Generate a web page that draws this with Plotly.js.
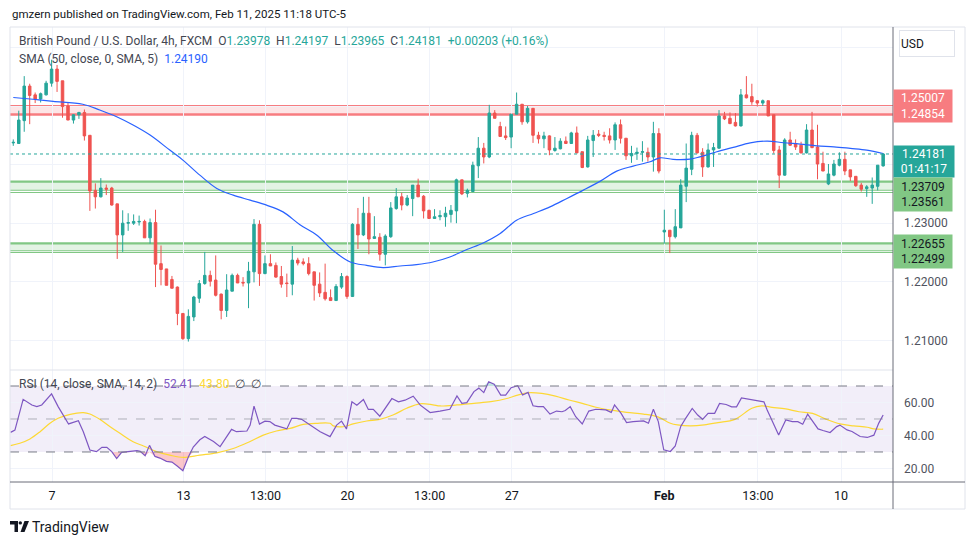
<!DOCTYPE html>
<html><head><meta charset="utf-8">
<script src="https://cdn.plot.ly/plotly-3.0.1.min.js"></script>
<style>html,body{margin:0;padding:0;background:#fff;}#chart{width:970px;height:545px;}</style>
</head><body><div id="chart"></div>
<script>
// ---- Candle data (GBPUSD 4h, FXCM) ----
const opens = [1.2437,1.2436,1.2475,1.2534,1.2519,1.2512,1.2519,1.2539,1.2563,1.2543,
1.2500,1.2476,1.2485,1.2489,1.2450,1.2356,1.2345,1.2360,1.2360,1.2333,
1.2280,1.2300,1.2300,1.2302,1.2303,1.2275,1.2301,1.2231,1.2222,1.2204,
1.2191,1.2146,1.2103,1.2140,1.2172,1.2197,1.2211,1.2203,1.2179,1.2151,
1.2184,1.2211,1.2199,1.2198,1.2217,1.2298,1.2214,1.2231,1.2228,1.2209,
1.2198,1.2196,1.2237,1.2234,1.2231,1.2217,1.2196,1.2182,1.2173,1.2168,
1.2191,1.2209,1.2175,1.2298,1.2280,1.2317,1.2274,1.2276,1.2247,1.2277,
1.2325,1.2345,1.2331,1.2342,1.2365,1.2346,1.2322,1.2308,1.2311,1.2311,
1.2315,1.2321,1.2374,1.2351,1.2354,1.2398,1.2428,1.2413,1.2488,1.2465,
1.2449,1.2447,1.2486,1.2503,1.2473,1.2496,1.2450,1.2444,1.2449,1.2424,
1.2427,1.2440,1.2436,1.2454,1.2422,1.2396,1.2441,1.2452,1.2450,1.2449,
1.2442,1.2468,1.2445,1.2415,1.2419,1.2421,1.2421,1.2413,1.2453,1.2285,
1.2288,1.2277,1.2292,1.2363,1.2392,1.2450,1.2421,1.2396,1.2425,1.2428,
1.2483,1.2479,1.2472,1.2466,1.2519,1.2516,1.2509,1.2505,1.2509,1.2485,
1.2425,1.2382,1.2442,1.2435,1.2433,1.2420,1.2459,1.2430,1.2402,1.2367,
1.2382,1.2399,1.2409,1.2391,1.2380,1.2365,1.2359,1.2360,1.2363,1.23978];
const highs = [1.2443,1.2492,1.2551,1.2538,1.2523,1.2523,1.2543,1.2579,1.2570,1.2543,
1.2506,1.2486,1.2490,1.2494,1.2450,1.2368,1.2377,1.2366,1.2362,1.2333,
1.2322,1.2317,1.2315,1.2313,1.2306,1.2308,1.2323,1.2262,1.2222,1.2210,
1.2192,1.2146,1.2153,1.2176,1.2203,1.2251,1.2219,1.2245,1.2180,1.2213,
1.2214,1.2214,1.2208,1.2234,1.2307,1.2305,1.2245,1.2247,1.2233,1.2227,
1.2214,1.2261,1.2241,1.2240,1.2242,1.2217,1.2216,1.2231,1.2187,1.2196,
1.2215,1.2211,1.2300,1.2326,1.2345,1.2345,1.2312,1.2283,1.2281,1.2336,
1.2360,1.2352,1.2348,1.2365,1.2376,1.2348,1.2323,1.2324,1.2322,1.2328,
1.2331,1.2376,1.2374,1.2359,1.2405,1.2447,1.2437,1.2502,1.2493,1.2473,
1.2465,1.2486,1.2523,1.2503,1.2500,1.2496,1.2456,1.2456,1.2450,1.2447,
1.2445,1.2448,1.2456,1.2465,1.2422,1.2449,1.2459,1.2459,1.2456,1.2462,
1.2472,1.2477,1.2445,1.2432,1.2429,1.2440,1.2429,1.2473,1.2462,1.2323,
1.2288,1.2324,1.2375,1.2436,1.2456,1.2454,1.2428,1.2436,1.2437,1.2493,
1.2490,1.2489,1.2488,1.2529,1.2551,1.2538,1.2510,1.2511,1.2509,1.2485,
1.2432,1.2445,1.2456,1.2443,1.2439,1.2469,1.2490,1.2468,1.2422,1.2401,
1.2408,1.2421,1.2422,1.2391,1.2380,1.2369,1.2365,1.2378,1.2399,1.24197];
const lows = [1.2432,1.2436,1.2456,1.2469,1.2505,1.2506,1.2518,1.2533,1.2524,1.2480,
1.2476,1.2470,1.2478,1.2441,1.2321,1.2325,1.2344,1.2348,1.2330,1.2239,
1.2251,1.2287,1.2297,1.2296,1.2275,1.2265,1.2191,1.2194,1.2194,1.2189,
1.2126,1.2101,1.2098,1.2133,1.2164,1.2195,1.2192,1.2175,1.2136,1.2140,
1.2184,1.2198,1.2192,1.2155,1.2199,1.2193,1.2213,1.2227,1.2207,1.2190,
1.2174,1.2177,1.2228,1.2228,1.2211,1.2168,1.2174,1.2168,1.2168,1.2168,
1.2188,1.2171,1.2174,1.2256,1.2278,1.2247,1.2273,1.2236,1.2228,1.2275,
1.2323,1.2322,1.2329,1.2312,1.2345,1.2308,1.2308,1.2308,1.2305,1.2294,
1.2301,1.2300,1.2348,1.2344,1.2353,1.2377,1.2402,1.2411,1.2479,1.2448,
1.2442,1.2428,1.2486,1.2468,1.2470,1.2437,1.2436,1.2428,1.2416,1.2422,
1.2426,1.2436,1.2436,1.2420,1.2394,1.2395,1.2413,1.2447,1.2441,1.2436,
1.2425,1.2436,1.2408,1.2403,1.2408,1.2405,1.2405,1.2388,1.2385,1.2265,
1.2249,1.2274,1.2292,1.2336,1.2382,1.2419,1.2379,1.2395,1.2396,1.2427,
1.2476,1.2469,1.2465,1.2465,1.2513,1.2502,1.2499,1.2500,1.2483,1.2419,
1.2360,1.2381,1.2432,1.2425,1.2419,1.2419,1.2428,1.2375,1.2389,1.2365,
1.2380,1.2397,1.2382,1.2372,1.2362,1.2354,1.2345,1.2333,1.2356,1.23965];
const closes = [1.2438,1.2476,1.2534,1.2518,1.2512,1.2521,1.2539,1.2563,1.2542,1.2499,
1.2476,1.2485,1.2489,1.2449,1.2355,1.2345,1.2360,1.2358,1.2331,1.2280,
1.2300,1.2301,1.2303,1.2303,1.2275,1.2301,1.2230,1.2221,1.2194,1.2189,
1.2146,1.2103,1.2141,1.2174,1.2197,1.2211,1.2201,1.2177,1.2151,1.2186,
1.2211,1.2198,1.2198,1.2218,1.2298,1.2214,1.2231,1.2227,1.2208,1.2196,
1.2197,1.2237,1.2232,1.2231,1.2214,1.2194,1.2181,1.2171,1.2168,1.2192,
1.2209,1.2175,1.2298,1.2280,1.2317,1.2273,1.2277,1.2247,1.2278,1.2326,
1.2345,1.2331,1.2343,1.2365,1.2345,1.2321,1.2308,1.2311,1.2313,1.2317,
1.2322,1.2374,1.2350,1.2356,1.2399,1.2428,1.2413,1.2488,1.2479,1.2448,
1.2446,1.2486,1.2503,1.2473,1.2496,1.2450,1.2444,1.2449,1.2425,1.2428,
1.2440,1.2436,1.2454,1.2420,1.2395,1.2442,1.2450,1.2450,1.2448,1.2442,
1.2468,1.2445,1.2415,1.2419,1.2421,1.2422,1.2413,1.2453,1.2389,1.2288,
1.2277,1.2294,1.2365,1.2394,1.2450,1.2420,1.2396,1.2425,1.2429,1.2483,
1.2478,1.2470,1.2466,1.2519,1.2514,1.2507,1.2505,1.2509,1.2483,1.2424,
1.2382,1.2442,1.2433,1.2430,1.2420,1.2459,1.2429,1.2401,1.2389,1.2384,
1.2401,1.2409,1.2389,1.2379,1.2364,1.2358,1.2362,1.2365,1.2399,1.24181];

// ---- SMA(50): candle index / value ----
const smaIdx = [0,3.6,7.3,12.7,15.8,18.9,21.9,25,28.6,31,34.1,37.2,40.2,43.3,46.3,49.3,52.4,55.5,58.4,61.6,64.6,67.6,70.7,73.7,76.7,79.8,82.9,85.9,89,92,95.1,98.1,101.2,104.2,107.3,110.3,113.3,116.4,118.2,120.6,123.7,125.5,128.6,131.6,134.7,137.8,140.8,143.8,146.9,150,153,156,159];
const smaVal = [1.25145,1.25115,1.2508,1.2503,1.24932,1.24817,1.24675,1.24504,1.24248,1.24077,1.2382,1.23593,1.23479,1.23393,1.23308,1.23193,1.22974,1.22795,1.22538,1.22338,1.2228,1.22243,1.2227,1.22294,1.22338,1.22424,1.2255,1.22663,1.22824,1.23051,1.23166,1.23279,1.23422,1.23564,1.23718,1.23889,1.23974,1.24048,1.24116,1.24089,1.24094,1.24133,1.24219,1.24294,1.24371,1.24402,1.24373,1.2435,1.24321,1.24304,1.24277,1.24248,1.2419];

// ---- RSI(14) and its SMA(14) ----
const rsiIdx = [-0.5,0.3,1.8,3.4,4.3,5.2,7.0,8.2,10.1,11.9,12.8,14.0,15.2,16.2,17.1,18.0,18.9,19.8,22.6,23.2,24.1,24.9,25.9,26.8,28.0,29.0,29.9,31.0,32.0,32.9,34.1,35.0,36.6,37.8,39.9,40.8,42.7,43.3,44.0,45.0,46.0,46.9,47.8,49.4,50.0,50.9,51.8,52.7,54.9,56.1,57.9,59.1,60.0,60.9,61.9,62.8,64.0,64.9,65.8,67.0,69.2,70.4,71.6,73.1,74.4,76.2,
78.0,79.8,81.1,82.0,82.9,84.2,85.1,86.0,86.9,87.9,89.1,90.0,91.0,92.2,93.1,94.1,95.0,95.9,96.9,98.1,99.3,100.3,100.9,101.8,102.8,104.0,105.2,106.5,108.3,109.3,109.9,111.1,112.1,113.3,115.2,116.1,117.0,117.9,118.9,120.1,121.0,122.0,122.9,124.1,125.1,126.0,127.0,128.2,129.1,130.3,131.3,132.2,133.1,134.4,135.9,137.2,137.8,139.0,139.9,141.2,142.4,143.4,144.3,145.2,146.2,147.1,148.0,149.3,150.5,151.1,152.4,153.3,154.8,156.1,157.3,158.2,159];
const rsiVal = [41.9,43.3,61.9,58.5,57.5,58.5,65.2,57.5,47.0,49.0,42.3,31.2,30.2,32.8,32.8,30.2,26.0,29.8,30.8,30.4,27.7,34.0,27.3,26.3,24.3,23.9,21.6,18.6,26.9,33.0,37.4,39.4,36.4,33.2,43.7,42.3,42.7,46.3,57.8,46.9,48.7,48.4,46.3,44.4,44.0,50.4,50.4,49.8,44.9,42.3,39.3,46.3,48.7,43.9,60.4,58.4,61.8,55.8,55.8,51.7,62.4,60.4,61.4,63.8,58.4,53.9,
54.8,55.9,64.0,59.5,59.9,66.6,68.7,66.0,72.6,71.1,64.5,64.5,69.0,70.2,64.5,66.1,58.0,57.5,57.5,53.0,54.8,54.4,55.1,57.5,51.4,47.0,54.8,55.9,55.5,54.0,58.5,53.4,47.8,48.4,48.8,47.4,55.9,48.4,31.3,30.3,33.7,45.5,50.4,56.4,52.4,49.8,53.4,53.4,59.4,58.8,57.4,57.4,62.8,62.0,60.8,60.4,55.4,46.3,40.3,49.4,48.4,48.4,46.8,52.9,47.8,44.0,43.0,41.8,45.4,46.3,43.4,42.4,39.4,38.8,40.2,47.5,52.41];
const rsiMaIdx = [-0.5,1.2,3.05,4.9,6.7,8.2,10.4,12.8,14.0,15.8,17.7,19.5,21.9,23.8,26.2,28.6,31.1,34.1,37.2,40.2,43.2,45.7,48.1,50.6,53.0,55.4,57.9,58.5,60.3,62.1,64.6,67.0,69.4,71.9,74.3,76.7,
78.0,81.1,84.2,87.3,90.4,92.2,94.1,96.6,99.1,101.6,104.0,106.5,109.0,112.1,115.2,117.7,120.1,121.4,123.8,126.3,128.8,131.9,135.0,136.8,138.7,141.2,143.6,146.1,148.6,151.1,153.6,156.1,157.3,159];
const rsiMaVal = [33.9,35.3,37.9,42.3,47.4,50.4,52.8,53.8,53.0,49.8,45.3,41.3,36.2,33.6,30.2,28.1,26.7,28.1,29.5,32.1,36.2,40.2,42.7,44.3,46.7,47.4,47.4,45.8,45.3,47.0,48.8,49.8,52.4,56.5,59.2,58.6,
57.9,58.5,59.5,60.5,62.6,64.5,65.9,65.5,63.9,61.5,59.5,57.1,55.5,54.0,53.0,51.4,47.4,46.4,45.8,46.4,47.8,49.8,56.5,57.9,57.1,56.1,54.4,53.4,49.8,47.0,45.8,45.0,44.0,43.8];

// ---- Axis labels ----
const timeTickPos = [7.1,31.1,46.1,61.1,76.1,91.1,119,136.1,151.3];
const timeTickText = ['7','13','13:00','20','13:00','27','<b>Feb</b>','13:00','10'];
const priceTicks = [1.21,1.22,1.23,1.24,1.25,1.26];
const priceTickText = ['1.21000','1.22000','1.23000','','',''];
const rsiTicks = [20,40,60];
const rsiTickText = ['20.00','40.00','60.00'];

// ---- Horizontal levels ----
const redZone = [1.24854, 1.25007];
const greenZone1 = [1.23561, 1.23709];
const greenZone1Extra = 1.23525;
const greenZone2 = [1.2253, 1.22655];
const greenZone2Extra = 1.22499;
const lastPrice = 1.24181;
const rsiUpper = 70, rsiMid = 50, rsiLower = 30;

const candleIdx = closes.map((_, i) => i);

// pixel helpers for paper-positioned decorations
const PL = 10, PR = 893, PT = 27, PB = 482;
const px = x => (x - PL) / (PR - PL);
const py = y => (PB - y) / (PB - PT);

const UP = '#26a69a', DN = '#ef5350';

const traces = [
  {type:'candlestick', x:candleIdx, open:opens, high:highs, low:lows, close:closes,
   xaxis:'x', yaxis:'y', hoverinfo:'skip', whiskerwidth:0,
   increasing:{line:{color:UP,width:1}, fillcolor:UP},
   decreasing:{line:{color:DN,width:1}, fillcolor:DN}},
  {type:'scatter', mode:'lines', x:smaIdx, y:smaVal, xaxis:'x', yaxis:'y',
   line:{color:'#2962ff', width:1.2, shape:'spline'}, hoverinfo:'skip'},
  // RSI oversold fill
  {type:'scatter', mode:'lines', x:rsiIdx, y:rsiIdx.map(() => rsiLower), xaxis:'x2', yaxis:'y2',
   line:{width:0}, hoverinfo:'skip'},
  {type:'scatter', mode:'lines', x:rsiIdx, y:rsiVal.map(v => Math.min(v, rsiLower)), xaxis:'x2', yaxis:'y2',
   line:{width:0}, fill:'tonexty', fillcolor:'rgba(242,54,69,0.28)', hoverinfo:'skip'},
  // RSI overbought fill
  {type:'scatter', mode:'lines', x:rsiIdx, y:rsiIdx.map(() => rsiUpper), xaxis:'x2', yaxis:'y2',
   line:{width:0}, hoverinfo:'skip'},
  {type:'scatter', mode:'lines', x:rsiIdx, y:rsiVal.map(v => Math.max(v, rsiUpper)), xaxis:'x2', yaxis:'y2',
   line:{width:0}, fill:'tonexty', fillcolor:'rgba(8,153,129,0.25)', hoverinfo:'skip'},
  {type:'scatter', mode:'lines', x:rsiMaIdx, y:rsiMaVal, xaxis:'x2', yaxis:'y2',
   line:{color:'#fdd835', width:1.2, shape:'spline'}, hoverinfo:'skip'},
  {type:'scatter', mode:'lines', x:rsiIdx, y:rsiVal, xaxis:'x2', yaxis:'y2',
   line:{color:'#7e57c2', width:1.2}, hoverinfo:'skip'}
];

const hline = (y, color, width, dash) => ({type:'line', xref:'paper', yref:'y', x0:0, x1:1, y0:y, y1:y,
  line:{color:color, width:width, dash:dash||'solid'}, layer:'below'});
const band = (y0, y1, fill) => ({type:'rect', xref:'paper', yref:'y', x0:0, x1:1, y0:y0, y1:y1,
  fillcolor:fill, line:{width:0}, layer:'below'});

const shapes = [
  band(redZone[0], redZone[1], 'rgba(247,124,128,0.2)'),
  hline(redZone[1], '#f77c80', 1.3), hline(redZone[0], '#f77c80', 2.4),
  band(greenZone1[0], greenZone1[1], 'rgba(129,199,132,0.22)'),
  hline(greenZone1[1], '#81c784', 2.2), hline(greenZone1[0], '#81c784', 1.1), hline(greenZone1Extra, '#81c784', 1.1),
  band(greenZone2[0], greenZone2[1], 'rgba(129,199,132,0.22)'),
  hline(greenZone2[1], '#81c784', 2.2), hline(greenZone2[0], '#81c784', 1.1), hline(greenZone2Extra, '#81c784', 1.1),
  {type:'line', xref:'paper', yref:'y', x0:0, x1:1, y0:lastPrice, y1:lastPrice, line:{color:UP, width:1, dash:'dot'}},
  // RSI band and levels
  {type:'rect', xref:'paper', yref:'y2', x0:0, x1:1, y0:rsiLower, y1:rsiUpper, fillcolor:'rgba(126,87,194,0.1)', line:{width:0}, layer:'below'},
  {type:'line', xref:'paper', yref:'y2', x0:0, x1:1, y0:rsiUpper, y1:rsiUpper, line:{color:'#787b86', width:1, dash:'dash'}},
  {type:'line', xref:'paper', yref:'y2', x0:0, x1:1, y0:rsiMid, y1:rsiMid, line:{color:'rgba(120,123,134,0.55)', width:1, dash:'dash'}},
  {type:'line', xref:'paper', yref:'y2', x0:0, x1:1, y0:rsiLower, y1:rsiLower, line:{color:'#787b86', width:1, dash:'dash'}},
  // frame and separators
  {type:'rect', xref:'paper', yref:'paper', x0:px(10), x1:px(965), y0:py(509), y1:py(27), line:{color:'#e0e3eb', width:1}},
  {type:'line', xref:'paper', yref:'paper', x0:px(10), x1:px(893), y0:py(370), y1:py(370), line:{color:'#e0e3eb', width:1}},
  {type:'line', xref:'paper', yref:'paper', x0:px(10), x1:px(965), y0:py(482), y1:py(482), line:{color:'#6a6d78', width:1}},
  {type:'line', xref:'paper', yref:'paper', x0:px(893), x1:px(893), y0:py(509), y1:py(27), line:{color:'#6a6d78', width:1}},
  // TradingView logo
  {type:'path', xref:'paper', yref:'paper', fillcolor:'#131722', line:{width:0},
   path:`M${px(10)},${py(521)} L${px(18)},${py(521)} L${px(18)},${py(532)} L${px(14.5)},${py(532)} L${px(14.5)},${py(524.5)} L${px(10)},${py(524.5)} Z`},
  {type:'circle', xref:'paper', yref:'paper', fillcolor:'#131722', line:{width:0},
   x0:px(18.6), x1:px(22), y0:py(524.6), y1:py(521.2)},
  {type:'path', xref:'paper', yref:'paper', fillcolor:'#131722', line:{width:0},
   path:`M${px(24.5)},${py(521)} L${px(29)},${py(521)} L${px(24.5)},${py(532)} L${px(20.5)},${py(532)} Z`}
];

const g = '#434651';
const tv = s => `<span style="color:${UP}">${s}</span>`;
const sp = '\u00a0\u00a0';
const annotations = [
  {xref:'paper', yref:'paper', x:px(10), y:py(14), xanchor:'left', yanchor:'middle', showarrow:false,
   text:'gmzern published on TradingView.com, Feb 11, 2025 11:18 UTC-5', font:{size:11.5, color:'#131722'}},
  {xref:'paper', yref:'paper', x:px(17), y:py(41), xanchor:'left', yanchor:'middle', showarrow:false,
   text:`British Pound / U.S. Dollar, 4h, FXCM${sp}O${tv('1.23978')}${sp}H${tv('1.24197')}${sp}L${tv('1.23965')}${sp}C${tv('1.24181')}${sp}${tv('+0.00203 (+0.16%)')}`,
   font:{size:12, color:g}},
  {xref:'paper', yref:'paper', x:px(17), y:py(59), xanchor:'left', yanchor:'middle', showarrow:false,
   text:`SMA (50, close, 0, SMA, 5)${sp}<span style="color:#2962ff">1.24190</span>`, font:{size:12, color:g}},
  {xref:'paper', yref:'paper', x:px(17), y:py(384), xanchor:'left', yanchor:'middle', showarrow:false,
   text:`RSI (14, close, SMA, 14, 2)${sp}<span style="color:#7e57c2">52.41</span>${sp}<span style="color:#fdd835">43.80</span>${sp}∅${sp}∅`, font:{size:12, color:g}},
  {xref:'paper', yref:'paper', x:px(30), y:py(527), xanchor:'left', yanchor:'middle', showarrow:false,
   text:'TradingView', font:{size:14, color:'#131722'}},
  // USD box
  {xref:'paper', yref:'paper', x:px(926.5), y:py(43.5), xanchor:'center', yanchor:'middle', showarrow:false,
   text:'USD', width:52, height:23, align:'left', bgcolor:'#ffffff', bordercolor:'#e0e3eb', borderwidth:1, borderpad:1, font:{size:12, color:'#131722'}},
  // level labels
  {xref:'paper', yref:'paper', x:1, y:py(106), xanchor:'left', yanchor:'middle', showarrow:false,
   text:'1.25007<br>1.24854', width:56, height:30, bgcolor:'#f77c80', borderpad:1, font:{size:12, color:'#ffffff'}},
  {xref:'paper', yref:'paper', x:1, y:py(161.5), xanchor:'left', yanchor:'middle', showarrow:false,
   text:'1.24181<br>01:41:17', width:58, height:29, bgcolor:UP, borderpad:1, font:{size:12, color:'#ffffff'}},
  {xref:'paper', yref:'paper', x:1, y:py(194), xanchor:'left', yanchor:'middle', showarrow:false,
   text:'1.23709<br>1.23561', width:56, height:31, bgcolor:'#81c784', borderpad:1, font:{size:12, color:'#131722'}},
  {xref:'paper', yref:'paper', x:1, y:py(251), xanchor:'left', yanchor:'middle', showarrow:false,
   text:'1.22655<br>1.22499', width:56, height:31, bgcolor:'#81c784', borderpad:1, font:{size:12, color:'#131722'}}
];

const layout = {
  width:970, height:545,
  margin:{l:PL, r:970-PR, t:PT, b:545-PB, pad:0},
  paper_bgcolor:'#ffffff', plot_bgcolor:'#ffffff',
  showlegend:false, hovermode:false,
  font:{family:'Roboto, "Noto Sans", sans-serif', size:12, color:'#131722'},
  xaxis:{domain:[0,1], anchor:'y', range:[-0.6,160.8], tickvals:timeTickPos, showticklabels:false,
         showgrid:true, gridcolor:'#f0f3fa', zeroline:false, showline:false, ticks:'', rangeslider:{visible:false}, fixedrange:true},
  xaxis2:{domain:[0,1], anchor:'y2', matches:'x', range:[-0.6,160.8], tickvals:timeTickPos, ticktext:timeTickText,
          showgrid:true, gridcolor:'#f0f3fa', zeroline:false, showline:false, ticks:'', ticklabelstandoff:4,
          tickfont:{size:12.5, color:'#131722'}, rangeslider:{visible:false}},
  yaxis:{domain:[py(370),1], anchor:'x', side:'right', range:[1.20495,1.26348], tickvals:priceTicks, ticktext:priceTickText,
         showgrid:true, gridcolor:'#f0f3fa', zeroline:false, showline:false, ticks:'', ticklabelstandoff:10,
         tickfont:{size:12, color:'#50535e'}},
  yaxis2:{domain:[0,py(370)], anchor:'x2', side:'right', range:[11.8,79.7], tickvals:rsiTicks, ticktext:rsiTickText,
          showgrid:true, gridcolor:'#f0f3fa', zeroline:false, showline:false, ticks:'', ticklabelstandoff:10,
          tickfont:{size:12, color:'#50535e'}},
  boxgap:0.35,
  shapes:shapes, annotations:annotations
};

Plotly.newPlot('chart', traces, layout, {staticPlot:true, displayModeBar:false});
</script></body></html>
